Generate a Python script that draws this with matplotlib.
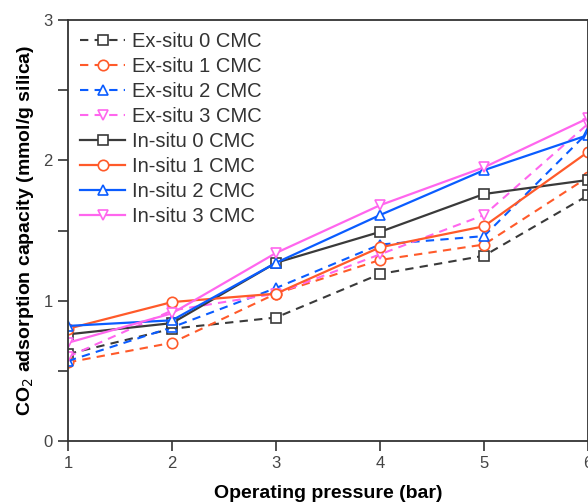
import numpy as np
import matplotlib
matplotlib.use("Agg")
import matplotlib.pyplot as plt
from matplotlib.ticker import MultipleLocator

plt.rcParams['font.family'] = ['Liberation Sans', 'DejaVu Sans']

pressure = [1, 2, 3, 4, 5, 6]

ex_situ_0 = [0.62, 0.80, 0.88, 1.19, 1.32, 1.75]
ex_situ_1 = [0.56, 0.70, 1.05, 1.29, 1.40, 1.88]
ex_situ_2 = [0.57, 0.81, 1.09, 1.40, 1.46, 2.20]
ex_situ_3 = [0.60, 0.93, 1.05, 1.33, 1.61, 2.26]
in_situ_0 = [0.76, 0.84, 1.27, 1.49, 1.76, 1.86]
in_situ_1 = [0.80, 0.99, 1.05, 1.38, 1.53, 2.06]
in_situ_2 = [0.82, 0.86, 1.27, 1.61, 1.93, 2.18]
in_situ_3 = [0.70, 0.91, 1.34, 1.68, 1.95, 2.30]

labels_ex = ["Ex-situ 0 CMC", "Ex-situ 1 CMC", "Ex-situ 2 CMC", "Ex-situ 3 CMC"]
labels_in = ["In-situ 0 CMC", "In-situ 1 CMC", "In-situ 2 CMC", "In-situ 3 CMC"]

colors = ['#3a3a3a', '#ff5a2a', '#0a5cff', '#ff66ee']
markers = ['s', 'o', '^', 'v']

fig = plt.figure(figsize=(5.88, 5.04), dpi=100)
ax = fig.add_axes([68/588, 1-441/504, 1-68/588, (441-20)/504])

for ys, lab, c, m in zip([ex_situ_0, ex_situ_1, ex_situ_2, ex_situ_3], labels_ex, colors, markers):
    ax.plot(pressure, ys, linestyle=(0, (4, 3)), color=c, marker=m, markersize=7.5,
            markerfacecolor='white', markeredgecolor=c, markeredgewidth=1.2, lw=1.5, label=lab)
for ys, lab, c, m in zip([in_situ_0, in_situ_1, in_situ_2, in_situ_3], labels_in, colors, markers):
    ax.plot(pressure, ys, linestyle='-', color=c, marker=m, markersize=7.5,
            markerfacecolor='white', markeredgecolor=c, markeredgewidth=1.2, lw=1.6, label=lab)

ax.set_xlim(1, 6)
ax.set_ylim(0, 3)
ax.xaxis.set_major_locator(MultipleLocator(1))
ax.yaxis.set_major_locator(MultipleLocator(1))
ax.yaxis.set_minor_locator(MultipleLocator(0.5))
ax.tick_params(which='both', direction='out', length=7, width=1.2, colors='#333333',
               labelsize=12, labelcolor='#444444', pad=4)
for s in ax.spines.values():
    s.set_linewidth(1.3)
    s.set_color('#333333')

ax.set_xlabel("Operating pressure (bar)", fontsize=14, fontweight='bold', labelpad=10)
ax.set_ylabel("CO$_2$ adsorption capacity (mmol/g silica)", fontsize=14, fontweight='bold', labelpad=5)

leg = ax.legend(loc='upper left', frameon=False, fontsize=14.5, handlelength=2.25,
                labelspacing=0.3, handletextpad=0.35, borderaxespad=0.2, borderpad=0.4)
for t in leg.get_texts():
    t.set_color('#333333')

fig.savefig("out.png", dpi=100)
